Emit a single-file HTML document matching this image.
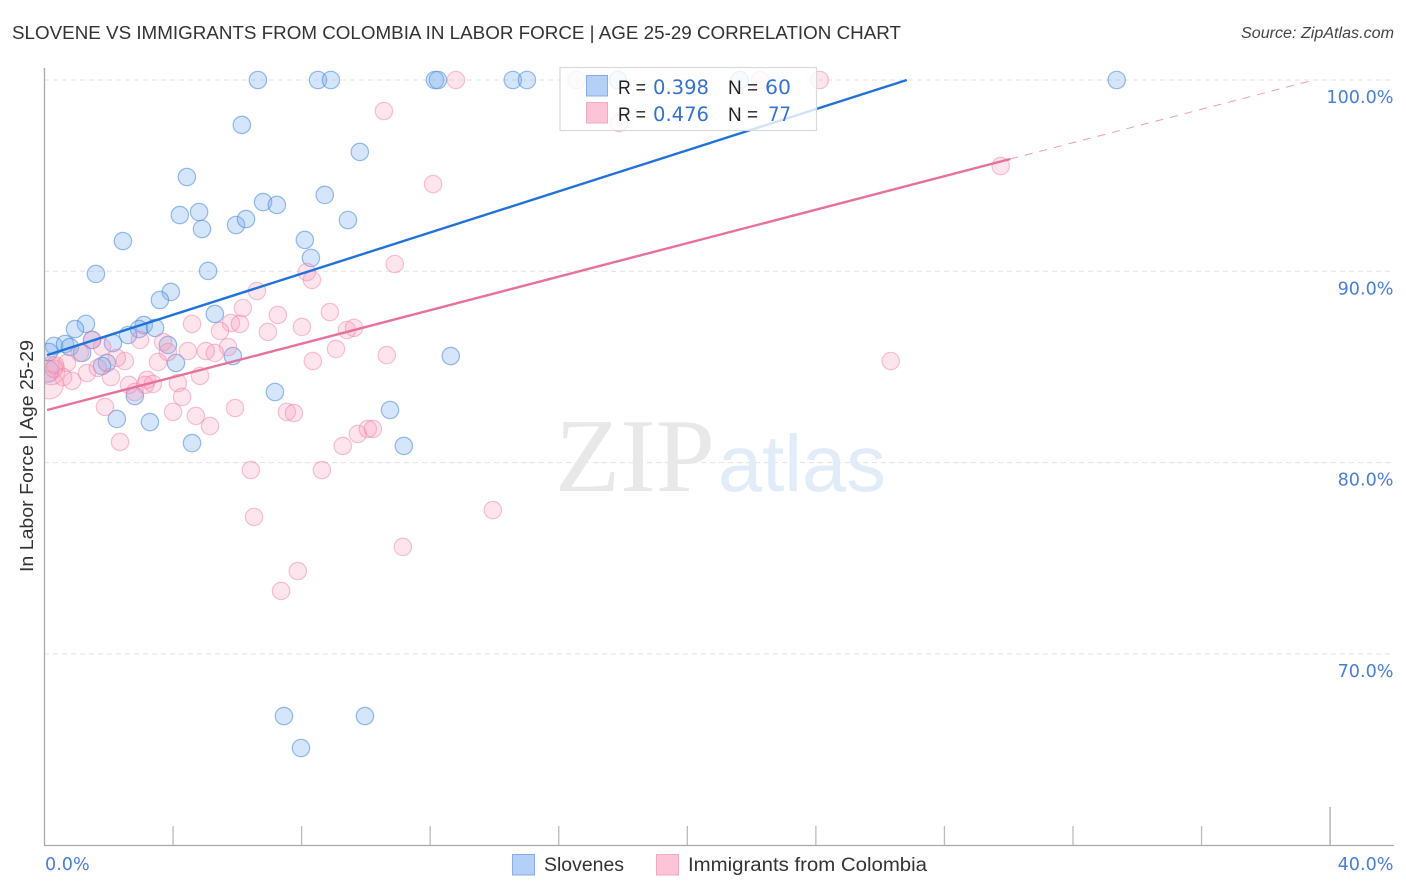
<!DOCTYPE html>
<html lang="en">
<head>
<meta charset="utf-8">
<title>Slovene vs Immigrants from Colombia in Labor Force | Age 25-29 Correlation Chart</title>
<style>
html,body{margin:0;padding:0;background:#fff;width:1406px;height:892px;overflow:hidden}
svg{display:block}
text{font-family:"Liberation Sans",sans-serif}
.dj{font-family:"DejaVu Sans",sans-serif}
</style>
</head>
<body>
<svg id="chart" width="1406" height="892" viewBox="0 0 1406 892" xmlns="http://www.w3.org/2000/svg">
  <defs>
    <clipPath id="plot-clip"><rect x="45" y="60" width="1349" height="785"/></clipPath>
  </defs>
  <text x="12" y="39" font-size="18.5" fill="#333" textLength="889" lengthAdjust="spacingAndGlyphs">SLOVENE VS IMMIGRANTS FROM COLOMBIA IN LABOR FORCE | AGE 25-29 CORRELATION CHART</text>
  <text x="1241" y="38" font-size="15.5" font-style="italic" fill="#444" textLength="153" lengthAdjust="spacingAndGlyphs">Source: ZipAtlas.com</text>
  <g id="grid"></g>
  <g>
    <text x="555" y="491" font-size="105" fill="#e8e8e8" textLength="160" lengthAdjust="spacingAndGlyphs" style="font-family:'Liberation Serif',serif">ZIP</text>
    <text x="718" y="491" font-size="80" fill="#e2ebf8" textLength="168" lengthAdjust="spacingAndGlyphs">atlas</text>
  </g>
  <g id="axes"></g>
  <g id="points" clip-path="url(#plot-clip)"></g>
  <g id="lines"></g>
  <text transform="translate(33,456) rotate(-90)" font-size="18.5" fill="#333" text-anchor="middle" textLength="232" lengthAdjust="spacingAndGlyphs">In Labor Force | Age 25-29</text>
  <g id="tick-labels"></g>

  <g>
    <rect x="560" y="67.5" width="256.5" height="63" fill="#fff" fill-opacity="0.8" stroke="#d9d9d9" stroke-width="1.2"/>
    <rect x="586.5" y="75.5" width="21" height="20.5" fill="#b4d0f6" stroke="#88aee0"/>
    <rect x="586.5" y="102.5" width="21" height="20.5" fill="#fcc4d6" stroke="#f0a9c0"/>
    <text x="618" y="94" font-size="19.5" fill="#222" textLength="28" lengthAdjust="spacingAndGlyphs">R =</text>
    <text class="dj" x="653" y="94" font-size="19.5" fill="#3472d2" textLength="56" lengthAdjust="spacingAndGlyphs">0.398</text>
    <text x="728" y="94" font-size="19.5" fill="#222" textLength="30" lengthAdjust="spacingAndGlyphs">N =</text>
    <text class="dj" x="765" y="94" font-size="19.5" fill="#3472d2" textLength="26" lengthAdjust="spacingAndGlyphs">60</text>
    <text x="618" y="121" font-size="19.5" fill="#222" textLength="28" lengthAdjust="spacingAndGlyphs">R =</text>
    <text class="dj" x="653" y="121" font-size="19.5" fill="#3472d2" textLength="56" lengthAdjust="spacingAndGlyphs">0.476</text>
    <text x="728" y="121" font-size="19.5" fill="#222" textLength="30" lengthAdjust="spacingAndGlyphs">N =</text>
    <text class="dj" x="768" y="121" font-size="19.5" fill="#3472d2" textLength="23" lengthAdjust="spacingAndGlyphs">77</text>
  </g>

  <g>
    <rect x="512.5" y="854.5" width="22" height="20.5" fill="#b4d0f6" stroke="#88aee0"/>
    <text x="544" y="871" font-size="19" fill="#333" textLength="80" lengthAdjust="spacingAndGlyphs">Slovenes</text>
    <rect x="656.5" y="854.5" width="22" height="20.5" fill="#fcc4d6" stroke="#f0a9c0"/>
    <text x="688" y="871" font-size="19" fill="#333" textLength="239" lengthAdjust="spacingAndGlyphs">Immigrants from Colombia</text>
  </g>
</svg>
<script>
const yGridValues = [100, 90, 80, 70];
const yTickLabels = ["100.0%", "90.0%", "80.0%", "70.0%"];
const xMinorTicks = [4, 8, 12, 16, 20, 24, 28, 32, 36];
const xMajorTicks = [0, 40];
const xTickLabels = ["0.0%", "40.0%"];

const sloveneX = [6.64,8.51,8.91,12.15,12.24,14.57,15.01,17.84,21.63,33.36,6.14,4.43,9.81,4.21,4.81,4.90,5.96,6.27,6.80,7.23,8.72,9.44,2.44,8.10,8.29,1.60,5.09,3.93,3.59,5.30,1.29,0.95,3.09,2.94,3.44,2.60,2.13,1.48,3.84,0.30,0.64,0.79,0.14,5.86,12.64,1.17,4.09,1.94,1.79,7.17,2.81,10.75,2.25,3.28,4.59,11.18,7.45,9.97,7.98];
const sloveneY = [100,100,100,100,100,100,100,100,100,100,97.65,94.93,96.24,92.94,93.10,92.21,92.42,92.73,93.62,93.47,93.99,92.68,91.58,91.64,90.70,89.86,90.02,88.92,88.50,87.77,87.25,86.98,87.19,86.98,87.04,86.67,86.25,86.41,86.15,86.10,86.20,86.04,85.78,85.57,85.57,85.73,85.21,85.21,85.05,83.69,83.48,82.75,82.28,82.12,81.02,80.87,66.75,66.75,65.08];
const sloveneLargeX = [0.10];
const sloveneLargeY = [84.78];

const colombiaX = [16.56,12.80,22.26,24.12,17.87,10.56,12.09,29.75,10.90,8.16,8.32,6.61,6.17,7.26,8.88,4.59,5.80,6.08,5.46,6.95,8.01,9.41,9.63,9.07,10.65,26.33,8.35,5.71,5.02,5.30,4.46,3.69,3.84,3.53,2.97,2.50,2.25,1.79,1.10,1.48,0.70,0.33,0.86,1.32,0.58,2.07,1.66,4.84,4.15,4.28,2.63,2.81,3.19,3.13,3.37,1.88,4.00,4.71,5.15,5.93,7.54,7.76,2.35,6.42,8.63,9.28,9.75,10.06,10.22,13.95,6.52,11.15,7.88,7.36,0.30];
const colombiaY = [100,100,100,100,97.75,98.38,94.56,95.50,90.38,89.96,89.55,88.97,88.08,87.72,87.87,87.25,87.30,87.25,86.88,86.83,87.09,86.93,87.04,85.94,85.62,85.31,85.31,86.04,85.83,85.73,85.83,86.30,85.78,85.26,86.41,85.31,85.47,86.04,85.73,86.41,85.21,85.10,84.27,84.68,84.47,84.47,84.95,84.53,84.16,83.43,84.06,83.69,84.32,84.06,84.11,82.91,82.65,82.44,81.91,82.85,82.65,82.59,81.08,79.61,79.61,80.87,81.50,81.76,81.76,77.52,77.16,75.59,74.33,73.29,84.90];
const colombiaLargeX = [0.15, 0.20];
const colombiaLargeY = [84.06, 84.80];

const sloveneTrendX = [0.08, 26.83];
const sloveneTrendY = [85.62, 100];
const colombiaTrendX = [0.08, 30.05];
const colombiaTrendY = [82.75, 95.87];
const colombiaDashX = [30.05, 39.5];
const colombiaDashY = [95.87, 100];

const NS = 'http://www.w3.org/2000/svg';
const xScale = v => 44.5 + v * 32.14;
const yScale = v => 80 + (100 - v) * 19.13;

function make(tag, parent, attrs) {
  const el = document.createElementNS(NS, tag);
  for (const k in attrs) el.setAttribute(k, attrs[k]);
  parent.appendChild(el);
  return el;
}

const gridG = document.getElementById('grid');
yGridValues.forEach(v => {
  const ln = make('line', gridG, {x1: 44, x2: 1394, y1: yScale(v), y2: yScale(v), stroke: '#e2e2e2', 'stroke-width': 1, 'stroke-dasharray': '5 4'});
  
  
});

const axesG = document.getElementById('axes');
const yAxis = make('line', axesG, {x1: 44.5, x2: 44.5, y1: 68, y2: 846, stroke: '#aaa', 'stroke-width': 1.3});


const xAxis = make('line', axesG, {x1: 44, x2: 1394, y1: 845.5, y2: 845.5, stroke: '#aaa', 'stroke-width': 1.3});


xMinorTicks.forEach(v => {
  const t = make('line', axesG, {x1: xScale(v), x2: xScale(v), y1: 826, y2: 845, stroke: '#bbb', 'stroke-width': 1.3});
  
  
});
xMajorTicks.slice(1).forEach(v => {
  const t = make('line', axesG, {x1: xScale(v), x2: xScale(v), y1: 807, y2: 845, stroke: '#aaa', 'stroke-width': 1.3});
  
  
});

const labelsG = document.getElementById('tick-labels');
yGridValues.forEach((v, i) => {
  const t = make('text', labelsG, {x: 1393.5, y: yScale(v) + 23, 'font-size': 17.6, fill: '#4a7ed8', 'text-anchor': 'end', class: 'dj'});
  
  
  t.textContent = yTickLabels[i];
});
xMajorTicks.forEach((v, i) => {
  const t = make('text', labelsG, {x: i === 0 ? 45 : 1393.5, y: 870, 'font-size': 17.6, fill: '#4a7ed8', 'text-anchor': i === 0 ? 'start' : 'end', class: 'dj'});
  
  
  t.textContent = xTickLabels[i];
});

const pointsG = document.getElementById('points');
function drawPoints(xs, ys, r, fill, stroke, name) {
  xs.forEach((x, i) => {
    const c = make('circle', pointsG, {cx: xScale(x), cy: yScale(ys[i]), r: r, fill: fill, stroke: stroke, 'stroke-width': 1.2});
    
    
  });
}
const blueFill = 'rgba(125,175,240,0.32)', blueStroke = 'rgba(70,135,220,0.55)';
const pinkFill = 'rgba(250,150,180,0.26)', pinkStroke = 'rgba(238,125,165,0.45)';
drawPoints(sloveneLargeX, sloveneLargeY, 11, blueFill, blueStroke, 'slovene-point');
drawPoints(sloveneX, sloveneY, 8.7, blueFill, blueStroke, 'slovene-point');
drawPoints(colombiaLargeX, colombiaLargeY, 14, pinkFill, pinkStroke, 'colombia-point');
drawPoints(colombiaX, colombiaY, 8.7, pinkFill, pinkStroke, 'colombia-point');

const linesG = document.getElementById('lines');
const blueLine = make('line', linesG, {x1: xScale(sloveneTrendX[0]), y1: yScale(sloveneTrendY[0]), x2: xScale(sloveneTrendX[1]), y2: yScale(sloveneTrendY[1]), stroke: '#2172d8', 'stroke-width': 2.4});


const pinkLine = make('line', linesG, {x1: xScale(colombiaTrendX[0]), y1: yScale(colombiaTrendY[0]), x2: xScale(colombiaTrendX[1]), y2: yScale(colombiaTrendY[1]), stroke: '#e8709c', 'stroke-width': 2.4});


const pinkDash = make('line', linesG, {x1: xScale(colombiaDashX[0]), y1: yScale(colombiaDashY[0]), x2: xScale(colombiaDashX[1]), y2: yScale(colombiaDashY[1]), stroke: '#eb9db6', 'stroke-width': 1, 'stroke-dasharray': '8 7'});


</script>
</body>
</html>
